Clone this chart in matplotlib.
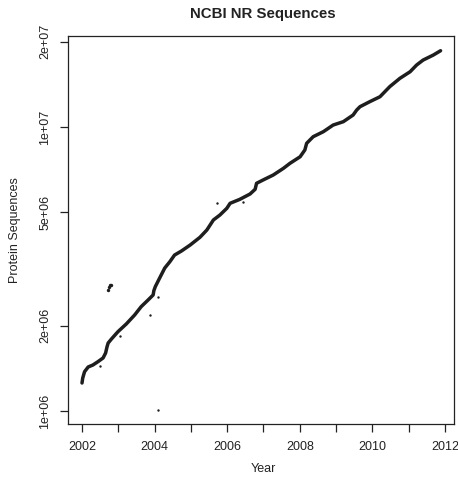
import matplotlib
matplotlib.use("Agg")
import matplotlib.pyplot as plt
import numpy as np

plt.rcParams["font.family"] = ["Liberation Sans", "DejaVu Sans"]

# main trend of NR sequence counts (year, sequences)
years = [2002.00, 2002.02, 2002.07, 2002.17, 2002.30, 2002.44, 2002.58, 2002.65,
         2002.69, 2002.72, 2002.81, 2002.99, 2003.22, 2003.45, 2003.63, 2003.82,
         2003.96, 2003.98, 2004.02, 2004.14, 2004.28, 2004.42, 2004.55, 2004.74,
         2004.98, 2005.25, 2005.44, 2005.62, 2005.80, 2005.99, 2006.08, 2006.35,
         2006.63, 2006.77, 2006.81, 2006.99, 2007.27, 2007.55, 2007.73, 2008.01,
         2008.14, 2008.19, 2008.37, 2008.65, 2008.92, 2009.20, 2009.47, 2009.57,
         2009.66, 2009.93, 2010.21, 2010.48, 2010.76, 2011.04, 2011.22, 2011.40,
         2011.68, 2011.88]
seqs = [1.255e6, 1.307e6, 1.375e6, 1.429e6, 1.452e6, 1.492e6, 1.537e6, 1.600e6,
        1.684e6, 1.735e6, 1.792e6, 1.902e6, 2.025e6, 2.178e6, 2.330e6, 2.459e6,
        2.562e6, 2.653e6, 2.741e6, 2.940e6, 3.187e6, 3.354e6, 3.541e6, 3.659e6,
        3.841e6, 4.089e6, 4.338e6, 4.705e6, 4.899e6, 5.172e6, 5.386e6, 5.564e6,
        5.809e6, 6.034e6, 6.336e6, 6.508e6, 6.776e6, 7.153e6, 7.449e6, 7.856e6,
        8.299e6, 8.762e6, 9.244e6, 9.627e6, 1.016e7, 1.044e7, 1.102e7, 1.148e7,
        1.179e7, 1.228e7, 1.278e7, 1.387e7, 1.484e7, 1.565e7, 1.653e7, 1.721e7,
        1.792e7, 1.856e7]

# stray releases off the main trend
odd_years = [2002.72, 2002.74, 2002.77, 2002.79, 2002.49, 2003.06, 2003.86,
             2004.09, 2004.09, 2005.73, 2006.43]
odd_seqs = [2.667e6, 2.723e6, 2.767e6, 2.785e6, 1.441e6, 1.837e6, 2.178e6,
            2.514e6, 1.008e6, 5.386e6, 5.431e6]

xticks = list(range(2002, 2013))
xlabels = [str(y) if y % 2 == 0 else "" for y in xticks]
yticks = [1e6, 2e6, 5e6, 1e7, 2e7]
ylabels = ["1e+06", "2e+06", "5e+06", "1e+07", "2e+07"]

fig = plt.figure(figsize=(4.58, 4.8), dpi=100)
ax = fig.add_axes([68/458, 1 - 424/480, (454-68)/458, (424-36)/480])

ax.plot(years, seqs, color="#1e1e1e", lw=2.5, solid_capstyle="round")
ax.scatter(odd_years[:4], odd_seqs[:4], s=6, color="#1e1e1e", lw=0)
ax.scatter(odd_years[4:], odd_seqs[4:], s=3, color="#1e1e1e", lw=0)

ax.set_yscale("log")
ax.set_xlim(2001.614, 2012.25)
ax.set_ylim(10 ** (6 - 13/284), 10 ** (7 + 91/284))
ax.set_xticks(xticks)
ax.set_xticklabels(xlabels)
ax.set_yticks(yticks)
ax.set_yticklabels(ylabels, rotation=90, va="center")
ax.minorticks_off()
ax.tick_params(axis="both", length=6, width=0.9, color="#222222",
               labelsize=9, labelcolor="#222222")
ax.tick_params(axis="x", pad=6)
ax.tick_params(axis="y", pad=6)
for sp in ax.spines.values():
    sp.set_linewidth(0.9)
    sp.set_color("#222222")

fig.text(263/458, 1 - 14/480, "NCBI NR Sequences", ha="center", va="center",
         fontsize=10.8, fontweight="bold", color="#222222")
fig.text(15/458, 1 - 230/480, "Protein Sequences", rotation=90,
         ha="center", va="center", fontsize=9, color="#222222")
fig.text(263/458, 1 - 469/480, "Year", ha="center", va="center",
         fontsize=9, color="#222222")

plt.savefig("out.png", dpi=100)
